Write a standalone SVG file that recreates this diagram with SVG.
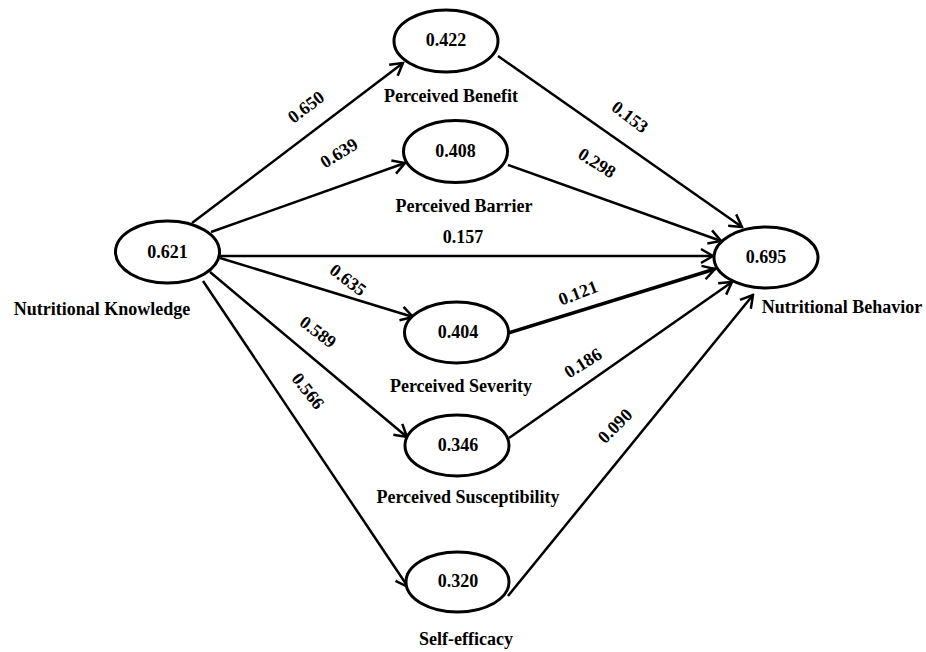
<svg xmlns="http://www.w3.org/2000/svg" width="926" height="652" viewBox="0 0 926 652">
<style>
text{font-family:"Liberation Serif","Times New Roman",serif;font-weight:bold;font-size:18px;fill:#000;text-anchor:middle}
ellipse{fill:#fff;stroke:#000;stroke-width:3}
.e{stroke:#000;stroke-width:2.5;fill:none;marker-end:url(#arr)}
</style>
<defs>
<marker id="arr" viewBox="-14 -9 16 18" refX="0" refY="0" markerWidth="16" markerHeight="18" markerUnits="userSpaceOnUse" orient="auto">
<path d="M-12,-7 L0,0 L-12,7" fill="none" stroke="#000" stroke-width="2.5"/>
</marker>
</defs>
<rect width="926" height="652" fill="#fff"/>
<g id="connectors">
<line class="e" x1="192" y1="223" x2="403" y2="63"/>
<line class="e" x1="211" y1="232" x2="405" y2="163"/>
<line class="e" x1="219" y1="256" x2="713" y2="256"/>
<line class="e" x1="220" y1="258" x2="413" y2="317"/>
<line class="e" x1="210" y1="272" x2="407" y2="437"/>
<line class="e" x1="203" y1="281" x2="408" y2="587"/>
<line class="e" x1="498" y1="56" x2="742" y2="227"/>
<line class="e" x1="508" y1="165" x2="721" y2="241"/>
<line class="e" x1="508" y1="333" x2="715" y2="269" style="stroke-width:3.5"/>
<line class="e" x1="509" y1="438" x2="732" y2="282"/>
<line class="e" x1="508" y1="596" x2="753" y2="295"/>
<text transform="translate(306,107) rotate(-37)" y="6">0.650</text>
<text transform="translate(339,153) rotate(-32)" y="6">0.639</text>
<text x="463" y="243">0.157</text>
<text transform="translate(348,280) rotate(37)" y="6">0.635</text>
<text transform="translate(318,332) rotate(37)" y="6">0.589</text>
<text transform="translate(308,391) rotate(52)" y="6">0.566</text>
<text transform="translate(630,117) rotate(37)" y="6">0.153</text>
<text transform="translate(597,163) rotate(32)" y="6">0.298</text>
<text transform="translate(578,293) rotate(-21)" y="6">0.121</text>
<text transform="translate(583,363) rotate(-32)" y="6">0.186</text>
<text transform="translate(615,426) rotate(-45)" y="6">0.090</text>
</g>
<g id="knowledge">
<ellipse cx="167.5" cy="252" rx="52" ry="31"/>
<text x="167.5" y="258">0.621</text>
<text x="102" y="315">Nutritional Knowledge</text>
</g>
<g id="benefit">
<ellipse cx="446" cy="41" rx="52" ry="31"/>
<text x="446" y="46">0.422</text>
<text x="451" y="102">Perceived Benefit</text>
</g>
<g id="barrier">
<ellipse cx="455.5" cy="151.5" rx="52" ry="31"/>
<text x="455.5" y="157">0.408</text>
<text x="464" y="212">Perceived Barrier</text>
</g>
<g id="behavior">
<ellipse cx="766" cy="257.5" rx="52" ry="30.5"/>
<text x="766" y="263">0.695</text>
<text x="842" y="313">Nutritional Behavior</text>
</g>
<g id="severity">
<ellipse cx="456.5" cy="332.5" rx="52" ry="30.5"/>
<text x="458" y="338">0.404</text>
<text x="461" y="392">Perceived Severity</text>
</g>
<g id="susceptibility">
<ellipse cx="457" cy="445.5" rx="52" ry="30.5"/>
<text x="458" y="451">0.346</text>
<text x="468" y="503">Perceived Susceptibility</text>
</g>
<g id="selfefficacy">
<ellipse cx="457.5" cy="582" rx="51.5" ry="30"/>
<text x="458" y="587">0.320</text>
<text x="466" y="645">Self-efficacy</text>
</g>
</svg>
